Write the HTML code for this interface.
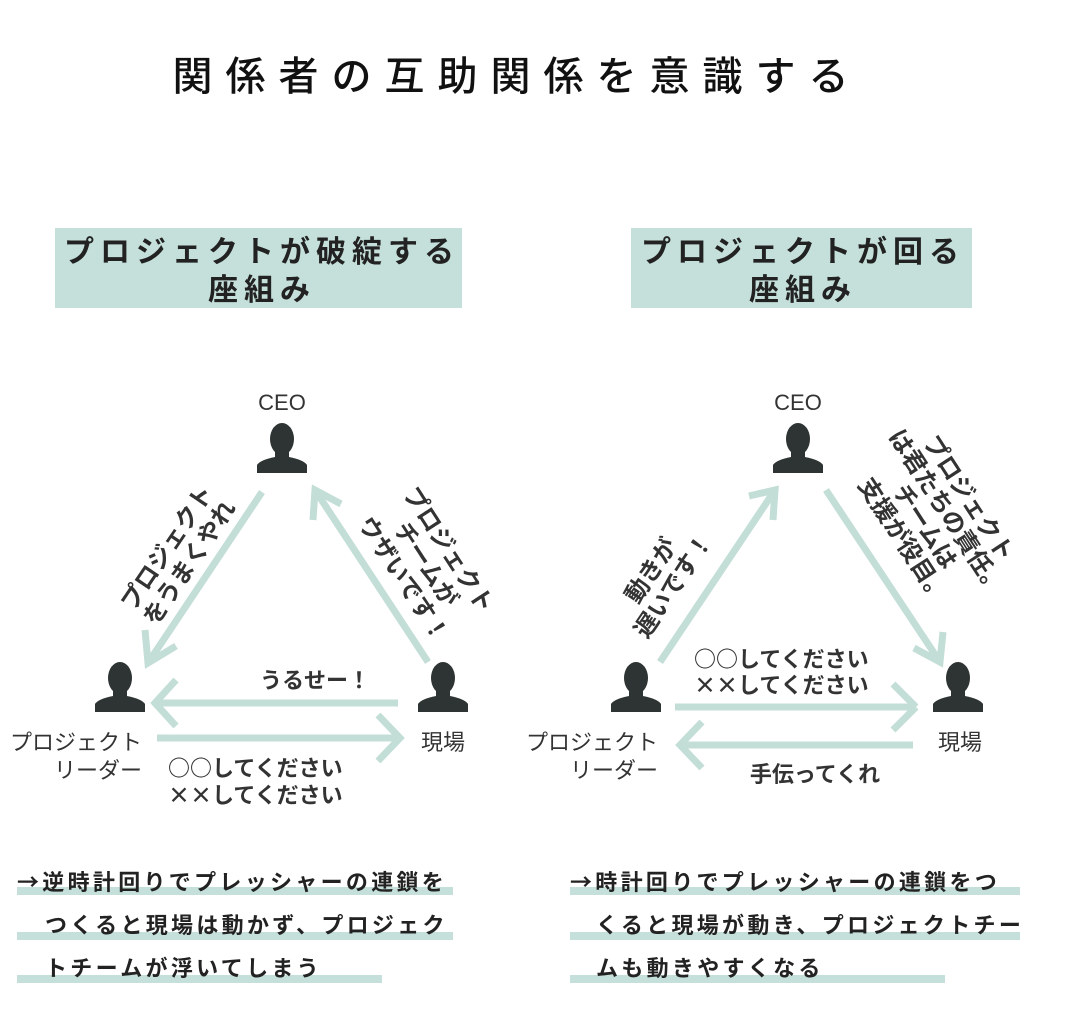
<!DOCTYPE html>
<html><head><meta charset="utf-8"><style>
body{margin:0;background:#fff;}
svg{display:block;font-family:"Liberation Sans","Noto Sans CJK JP",sans-serif;}
.t{fill:#333;font-size:22px;}
.b{fill:#222;font-weight:bold;}
.j{font-family:"Noto Sans CJK JP",sans-serif;}
.ar{stroke:#c3ded7;stroke-width:7;fill:none;stroke-linecap:butt;}
</style></head><body>
<svg width="1070" height="1020" viewBox="0 0 1070 1020">
<defs>
<g id="p"><ellipse cx="0" cy="-8" rx="12" ry="16" fill="#2e3433"/><path d="M-7,4 L-7,10 Q-22,13 -25,18 L-25,26 L25,26 L25,18 Q22,13 7,10 L7,4 Z" fill="#2e3433"/></g>
</defs>
<text x="517" y="90" text-anchor="middle" style="font-size:40px;letter-spacing:13px;fill:#111;font-weight:500" class="j">関係者の互助関係を意識する</text>
<rect x="55" y="228" width="407" height="80" fill="#c5e0da"/>
<rect x="631" y="228" width="341" height="80" fill="#c5e0da"/>
<g class="b" style="font-size:30px;letter-spacing:6px">
<text x="262" y="262" text-anchor="middle">プロジェクトが破綻する</text>
<text x="262" y="300" text-anchor="middle">座組み</text>
<text x="803" y="262" text-anchor="middle">プロジェクトが回る</text>
<text x="803" y="300" text-anchor="middle">座組み</text>
</g>

<!-- left -->
<text class="t" x="282" y="410" text-anchor="middle">CEO</text>
<use href="#p" x="282" y="447"/>
<use href="#p" x="120" y="686"/>
<use href="#p" x="443" y="686"/>
<text class="t" x="142" y="750" text-anchor="end">プロジェクト</text>
<text class="t" x="142" y="778" text-anchor="end">リーダー</text>
<text class="t" x="443" y="750" text-anchor="middle">現場</text>
<path class="ar" d="M262,492 L148,663 M145,630 L148,663 L176,646"/>
<path class="ar" d="M428,662 L315,490 M313,520 L315,490 L341,504"/>
<path class="ar" d="M398,703 L158,703 M176,680 L155,703 L176,726"/>
<path class="ar" d="M157,738 L398,738 M378,715 L400,738 L378,761"/>
<text class="t" x="315" y="688" text-anchor="middle" style="font-weight:bold">うるせー！</text>
<text class="t j" x="168" y="776" style="font-weight:bold">○○してください</text>
<text class="t j" x="168" y="803" style="font-weight:bold">××してください</text>
<g transform="translate(178,555) rotate(-56)"><text class="t" text-anchor="middle" y="-5" style="font-weight:bold;font-size:24px">プロジェクト</text><text class="t" text-anchor="middle" y="22" style="font-weight:bold;font-size:24px">をうまくやれ</text></g>
<g transform="translate(425,565) rotate(57)"><text class="t" text-anchor="middle" y="-20" style="font-weight:bold;font-size:24px">プロジェクト</text><text class="t" text-anchor="middle" y="7" style="font-weight:bold;font-size:24px">チームが</text><text class="t" text-anchor="middle" y="34" style="font-weight:bold;font-size:24px">ウザいです！</text></g>

<!-- right -->
<text class="t" x="798" y="410" text-anchor="middle">CEO</text>
<use href="#p" x="798" y="447"/>
<use href="#p" x="636" y="686"/>
<use href="#p" x="958" y="686"/>
<text class="t" x="658" y="750" text-anchor="end">プロジェクト</text>
<text class="t" x="658" y="778" text-anchor="end">リーダー</text>
<text class="t" x="960" y="750" text-anchor="middle">現場</text>
<path class="ar" d="M660,662 L775,490 M749,496 L775,490 L773,520"/>
<path class="ar" d="M826,490 L940,662 M914,648 L940,662 L943,632"/>
<path class="ar" d="M675,707 L914,707 M893,684 L916,707 M916,707 L893,730"/>
<path class="ar" d="M913,745 L682,745 M702,722 L680,745 L702,768"/>
<text class="t j" x="694" y="667" style="font-weight:bold">○○してください</text>
<text class="t j" x="694" y="693" style="font-weight:bold">××してください</text>
<text class="t" x="815" y="782" text-anchor="middle" style="font-weight:bold">手伝ってくれ</text>
<g transform="translate(662,578) rotate(-56)"><text class="t" text-anchor="middle" y="-5" style="font-weight:bold;font-size:24px">動きが</text><text class="t" text-anchor="middle" y="22" style="font-weight:bold;font-size:24px">遅いです！</text></g>
<g transform="translate(935,520) rotate(57)"><text class="t" text-anchor="middle" y="-32" style="font-weight:bold;font-size:24px">プロジェクト</text><text class="t" text-anchor="middle" y="-6" style="font-weight:bold;font-size:24px">は君たちの責任。</text><text class="t" text-anchor="middle" y="20" style="font-weight:bold;font-size:24px">チームは</text><text class="t" text-anchor="middle" y="46" style="font-weight:bold;font-size:24px">支援が役目。</text></g>

<!-- bottom -->
<g fill="#c5e0da">
<rect x="17" y="887" width="436" height="8"/><rect x="17" y="932" width="436" height="8"/><rect x="17" y="975" width="365" height="8"/>
<rect x="570" y="887" width="450" height="8"/><rect x="570" y="932" width="450" height="8"/><rect x="570" y="975" width="375" height="8"/>
</g>
<g class="b j" style="font-size:22px;letter-spacing:3.3px">
<text x="17" y="890">→逆時計回りでプレッシャーの連鎖を</text>
<text x="45" y="933">つくると現場は動かず、プロジェク</text>
<text x="45" y="976">トチームが浮いてしまう</text>
<text x="570" y="890">→時計回りでプレッシャーの連鎖をつ</text>
<text x="596" y="933">くると現場が動き、プロジェクトチー</text>
<text x="596" y="976">ムも動きやすくなる</text>
</g>
</svg>
</body></html>
